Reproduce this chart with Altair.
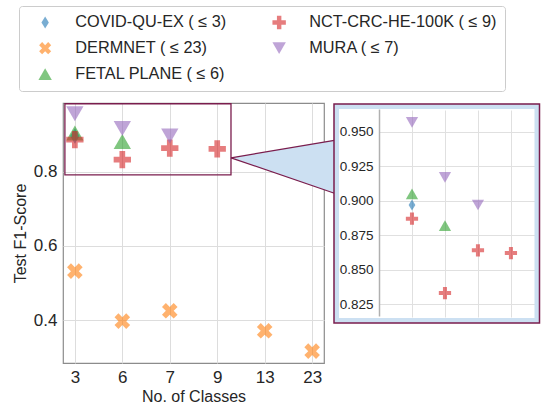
import altair as alt
import pandas as pd

# x positions are the index into this list of class counts
classes = ["3", "6", "7", "9", "13", "23"]

# Test F1-score per dataset, keyed by index into `classes`
covid_idx = [0]
covid_f1 = [0.897]
dermnet_idx = [0, 1, 2, 4, 5]
dermnet_f1 = [0.532, 0.397, 0.425, 0.371, 0.316]
fetal_idx = [0, 1]
fetal_f1 = [0.905, 0.882]
nct_idx = [0, 1, 2, 3]
nct_f1 = [0.887, 0.833, 0.864, 0.862]
mura_idx = [0, 1, 2]
mura_f1 = [0.957, 0.917, 0.897]

names = ["COVID-QU-EX ( ≤ 3)", "DERMNET ( ≤ 23)", "FETAL PLANE ( ≤ 6)",
         "NCT-CRC-HE-100K ( ≤ 9)", "MURA ( ≤ 7)"]
colors = ["#1f77b4", "#ff7f0e", "#2ca02c", "#d62728", "#9467bd"]

PLUS = "M-1,-0.33H-0.33V-1H0.33V-0.33H1V0.33H0.33V1H-0.33V0.33H-1Z"
XMARK = ("M-0.45,-0.9L0,-0.45L0.45,-0.9L0.9,-0.45L0.45,0L0.9,0.45L0.45,0.9"
         "L0,0.45L-0.45,0.9L-0.9,0.45L-0.45,0L-0.9,-0.45Z")
THIN_DIAMOND = "M0,-0.9L0.55,0L0,0.9L-0.55,0Z"
shapes = [THIN_DIAMOND, XMARK, "triangle-up", PLUS, "triangle-down"]

# zoomed region (main-axis units) and the connector wedge toward the inset
zoom_x = [-0.21, 3.29]
zoom_y = [0.792, 0.984]
wedge_apex = [3.29, 0.838]
wedge_far_x = 5.5
wedge_far_y = [0.886, 0.741]

frames = []
for name, idx, f1 in zip(names,
                         [covid_idx, dermnet_idx, fetal_idx, nct_idx, mura_idx],
                         [covid_f1, dermnet_f1, fetal_f1, nct_f1, mura_f1]):
    frames.append(pd.DataFrame({"dataset": name, "idx": idx, "f1": f1}))
df = pd.concat(frames, ignore_index=True)

color_scale = alt.Scale(domain=names, range=colors)
shape_scale = alt.Scale(domain=names, range=shapes)

FONT = "Liberation Sans"
TXT = "#262626"
MAROON = "#7a1d4d"
LIGHTBLUE = "#cce0f2"

label_expr = "[" + ",".join("'%s'" % c for c in classes) + "][datum.value]"

x_main_scale = alt.Scale(domain=[-0.25, 5.25], nice=False, zero=False)
y_main_scale = alt.Scale(domain=[0.284, 0.986], nice=False, zero=False)
x_main_axis = alt.Axis(values=list(range(len(classes))), labelExpr=label_expr,
                       title="No. of Classes", grid=True, gridColor="#dddddd",
                       domain=False, ticks=False, labelFontSize=17, labelPadding=6,
                       titleFontSize=16, titlePadding=3, labelColor=TXT,
                       titleColor=TXT, titleFontWeight="normal")
y_main_axis = alt.Axis(values=[0.4, 0.6, 0.8], format=".1f", title="Test F1-Score",
                       grid=True, gridColor="#dddddd", domain=False, ticks=False,
                       labelFontSize=17, labelPadding=6, titleFontSize=16,
                       titlePadding=5, labelColor=TXT, titleColor=TXT,
                       titleFontWeight="normal")

X = alt.X("idx:Q", scale=x_main_scale, axis=x_main_axis)
Y = alt.Y("f1:Q", scale=y_main_scale, axis=y_main_axis)

wedge_df = pd.DataFrame({"idx": [wedge_apex[0], wedge_far_x],
                         "f1": [wedge_apex[1], wedge_far_y[0]],
                         "f1b": [wedge_apex[1], wedge_far_y[1]]})
wedge = alt.Chart(wedge_df).mark_area(color=LIGHTBLUE, opacity=1).encode(
    x=X, y=Y, y2="f1b:Q")

edge_df = pd.DataFrame({"idx": [wedge_apex[0]] * 2, "f1": [wedge_apex[1]] * 2,
                        "idx2": [wedge_far_x] * 2, "f1b": wedge_far_y})
edges = alt.Chart(edge_df).mark_rule(color=MAROON, strokeWidth=1.2).encode(
    x=X, y=Y, x2="idx2:Q", y2="f1b:Q")

zoom_df = pd.DataFrame({"idx": [zoom_x[0]], "idx2": [zoom_x[1]],
                        "f1": [zoom_y[0]], "f1b": [zoom_y[1]]})
zoom_box = alt.Chart(zoom_df).mark_rect(fillOpacity=0, stroke=MAROON,
                                         strokeWidth=1.3).encode(
    x=X, x2="idx2:Q", y=Y, y2="f1b:Q")

legend_style = dict(
    title=None, orient="none", legendX=-44, legendY=-97, columns=2,
    columnPadding=34, rowPadding=9, padding=8, symbolOffset=10,
    labelOffset=22, symbolSize=180, labelFontSize=16.3, labelFont=FONT,
    labelColor=TXT, strokeColor="#cccccc", fillColor="white",
    cornerRadius=3, labelLimit=400)

points = alt.Chart(df).mark_point(filled=True, opacity=0.6, size=300,
                                  strokeWidth=0).encode(
    x=X, y=Y,
    color=alt.Color("dataset:N", scale=color_scale,
                    legend=alt.Legend(**legend_style)),
    shape=alt.Shape("dataset:N", scale=shape_scale,
                    legend=alt.Legend(**legend_style)),
)

main = alt.layer(wedge, edges, zoom_box, points).properties(
    width=261, height=260,
    view=alt.ViewBackground(stroke="#8c8c8c", strokeWidth=1.2))

# inset: enlarged view of the high-scoring region
x_in = alt.X("idx:Q", scale=alt.Scale(domain=[-1.0, 3.76], range=[0, 157],
                                      nice=False, zero=False),
             axis=alt.Axis(values=[0, 1, 2, 3], labels=False, ticks=False,
                           domain=False, title=None, grid=True,
                           gridColor="#e0e0e0"))
y_in = alt.Y("f1:Q", scale=alt.Scale(domain=[0.8163, 0.9667], range=[213, 6],
                                     nice=False, zero=False),
             axis=alt.Axis(values=[0.825, 0.85, 0.875, 0.9, 0.925, 0.95],
                           format=".3f", title=None, grid=True,
                           gridColor="#e0e0e0", domain=True,
                           domainColor="#b0b0b0", domainWidth=1.5, ticks=False,
                           labelFontSize=13.5, labelPadding=6, labelColor=TXT))

inset_points = alt.Chart(df).transform_filter(
    (alt.datum.idx <= 3) & (alt.datum.f1 >= 0.8)
).mark_point(filled=True, opacity=0.6, size=150, strokeWidth=0).encode(
    x=x_in, y=y_in,
    color=alt.Color("dataset:N", scale=color_scale, legend=None),
    shape=alt.Shape("dataset:N", scale=shape_scale, legend=None),
)

one = pd.DataFrame({"k": [0]})
band = alt.Chart(one).mark_rect(fillOpacity=0, stroke=LIGHTBLUE, strokeWidth=5).encode(
    x=alt.value(-42.5), x2=alt.value(158), y=alt.value(3.5), y2=alt.value(217.5))
frame = alt.Chart(one).mark_rect(fillOpacity=0, stroke=MAROON, strokeWidth=1.5).encode(
    x=alt.value(-45), x2=alt.value(160.5), y=alt.value(1), y2=alt.value(220))

inset = alt.layer(inset_points, band, frame).properties(
    width=160, height=220,
    view=alt.ViewBackground(stroke="transparent"))

chart = alt.hconcat(main, inset, spacing=55, bounds="flush").resolve_scale(
    color="independent", shape="independent"
).resolve_legend(color="independent", shape="independent").properties(
    padding={"left": 11, "top": 4, "right": 1, "bottom": 2}
).configure(font=FONT)

chart.save("out.html", embed_options={"renderer": "svg", "actions": False})
